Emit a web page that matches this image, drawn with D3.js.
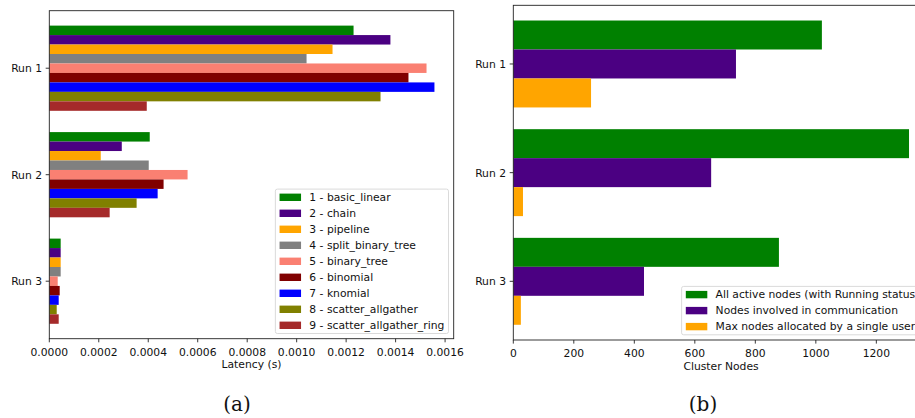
<!DOCTYPE html>
<html>
<head>
<meta charset="utf-8">
<script src="https://cdn.jsdelivr.net/npm/d3@7"></script>
<style>
    body { margin: 0; background: #fff; }
    svg { display: block; }
</style>
</head>
<body>
<div id="chart"></div>
<script>
const runs = ["Run 1", "Run 2", "Run 3"];

const algorithms = [
    "1 - basic_linear", "2 - chain", "3 - pipeline", "4 - split_binary_tree",
    "5 - binary_tree", "6 - binomial", "7 - knomial", "8 - scatter_allgather",
    "9 - scatter_allgather_ring"
];
const algoColors = ["#008000", "#4b0082", "#ffa500", "#808080", "#fa8072",
    "#800000", "#0000ff", "#808000", "#a52a2a"];

// latency (s), one value per algorithm
const latencyRun1 = [0.00123, 0.001379, 0.001145, 0.00104, 0.001525, 0.001452, 0.001557, 0.001339, 0.000394];
const latencyRun2 = [0.000406, 0.000293, 0.000208, 0.000402, 0.000559, 0.000462, 0.000438, 0.000353, 0.000244];
const latencyRun3 = [0.000046, 0.000046, 0.000046, 0.000046, 0.000034, 0.000042, 0.000038, 0.00003, 0.000038];
const latencyTicks = [0, 0.0002, 0.0004, 0.0006, 0.0008, 0.0010, 0.0012, 0.0014, 0.0016];

const nodeSeries = [
    "All active nodes (with Running status)",
    "Nodes involved in communication",
    "Max nodes allocated by a single user"
];
const nodeColors = ["#008000", "#4b0082", "#ffa500"];
const activeNodes = [1020, 1308, 878];
const commNodes = [736, 654, 432];
const maxUserNodes = [257, 32, 25];
const nodeTicks = [0, 200, 400, 600, 800, 1000, 1200];

const FONT = "'DejaVu Sans', sans-serif";
const FS = 10.75;

const svg = d3.select("#chart").append("svg")
    .attr("width", 915)
    .attr("height", 418);

function drawPanel(cfg) {
    const g = svg.append("g");
    const n = cfg.values.length;
    const maxVal = d3.max(cfg.values.flat());

    const x = d3.scaleLinear()
        .domain([0, maxVal * 1.05])
        .range([cfg.box.x0, cfg.box.x1]);
    // matplotlib-style categorical axis with 5% margins
    const y = d3.scaleLinear()
        .domain([-0.54, runs.length - 1 + 0.54])
        .range([cfg.box.y0, cfg.box.y1]);

    const barH = 0.8 / n;
    cfg.values.forEach((vals, j) => {
        g.selectAll(null)
            .data(vals)
            .enter().append("rect")
            .attr("x", x(0))
            .attr("y", (d, i) => y(i - 0.4 + j * barH))
            .attr("width", d => x(d) - x(0))
            .attr("height", y(barH) - y(0))
            .style("fill", cfg.colors[j]);
    });

    // spines
    g.append("rect")
        .attr("x", cfg.box.x0)
        .attr("y", cfg.box.y0)
        .attr("width", cfg.box.x1 - cfg.box.x0)
        .attr("height", cfg.box.y1 - cfg.box.y0)
        .style("fill", "none")
        .style("stroke", "#222")
        .style("stroke-width", 0.9);

    // y ticks
    const yt = g.selectAll(".ytick")
        .data(runs)
        .enter().append("g")
        .attr("transform", (d, i) => `translate(${cfg.box.x0}, ${y(i)})`);
    yt.append("line").attr("x1", -3.6).attr("x2", 0).style("stroke", "#222").style("stroke-width", 0.9);
    yt.append("text")
        .attr("x", -7.3)
        .attr("dy", "0.36em")
        .attr("text-anchor", "end")
        .style("font-family", FONT)
        .style("font-size", FS + "px")
        .style("fill", "#111")
        .text(d => d);

    // x ticks
    const xt = g.selectAll(".xtick")
        .data(cfg.ticks)
        .enter().append("g")
        .attr("transform", d => `translate(${x(d)}, ${cfg.box.y1})`);
    xt.append("line").attr("y1", 0).attr("y2", 3.6).style("stroke", "#222").style("stroke-width", 0.9);
    xt.append("text")
        .attr("y", 17)
        .attr("text-anchor", "middle")
        .style("font-family", FONT)
        .style("font-size", FS + "px")
        .style("fill", "#111")
        .text(cfg.tickFormat);

    g.append("text")
        .attr("x", (cfg.box.x0 + cfg.box.x1) / 2)
        .attr("y", cfg.box.y1 + 29.5)
        .attr("text-anchor", "middle")
        .style("font-family", FONT)
        .style("font-size", FS + "px")
        .style("fill", "#111")
        .text(cfg.xLabel);

    drawLegend(g, cfg);

    g.append("text")
        .attr("x", cfg.captionX)
        .attr("y", 411)
        .attr("text-anchor", "middle")
        .style("font-family", "'DejaVu Serif', serif")
        .style("font-size", "20px")
        .style("fill", "#111")
        .text(cfg.caption);
}

function drawLegend(g, cfg) {
    const rowH = 16;
    const pad = 4.2, handleW = 21.5, gap = 8.3;
    const legend = g.append("g");
    const frame = legend.append("rect");

    const items = legend.selectAll(".legend-item")
        .data(cfg.labels)
        .enter().append("g")
        .attr("transform", (d, i) => `translate(0, ${i * rowH})`);
    items.append("rect")
        .attr("x", pad)
        .attr("y", -3.7)
        .attr("width", handleW)
        .attr("height", 7.4)
        .style("fill", (d, i) => cfg.colors[i]);
    const texts = items.append("text")
        .attr("x", pad + handleW + gap)
        .attr("dy", "0.36em")
        .style("font-family", FONT)
        .style("font-size", FS + "px")
        .style("fill", "#111")
        .text(d => d);

    let textW = 0;
    texts.each(function () { textW = Math.max(textW, this.getComputedTextLength()); });
    const w = pad + handleW + gap + textW + pad;
    const h = (cfg.labels.length - 1) * rowH + 16.4;

    frame
        .attr("x", 0)
        .attr("y", -8.2)
        .attr("width", w)
        .attr("height", h)
        .attr("rx", 2)
        .style("fill", "rgba(255,255,255,0.8)")
        .style("stroke", "#d6d6d6")
        .style("stroke-width", 0.9);

    const right = cfg.box.x1 - 5.2;
    const bottom = cfg.box.y1 - 5.2;
    legend.attr("transform", `translate(${right - w}, ${bottom - h + 8.2})`);
}

drawPanel({
    box: { x0: 49.3, x1: 453.7, y0: 10.7, y1: 338.7 },
    values: algorithms.map((a, j) => [latencyRun1[j], latencyRun2[j], latencyRun3[j]]),
    colors: algoColors,
    labels: algorithms,
    ticks: latencyTicks,
    tickFormat: d => d.toFixed(4),
    xLabel: "Latency (s)",
    caption: "(a)",
    captionX: 237
});

drawPanel({
    box: { x0: 513.3, x1: 928.8, y0: 5.3, y1: 340 },
    values: [activeNodes, commNodes, maxUserNodes],
    colors: nodeColors,
    labels: nodeSeries,
    ticks: nodeTicks,
    tickFormat: d => String(d),
    xLabel: "Cluster Nodes",
    caption: "(b)",
    captionX: 703
});
</script>
</body>
</html>
